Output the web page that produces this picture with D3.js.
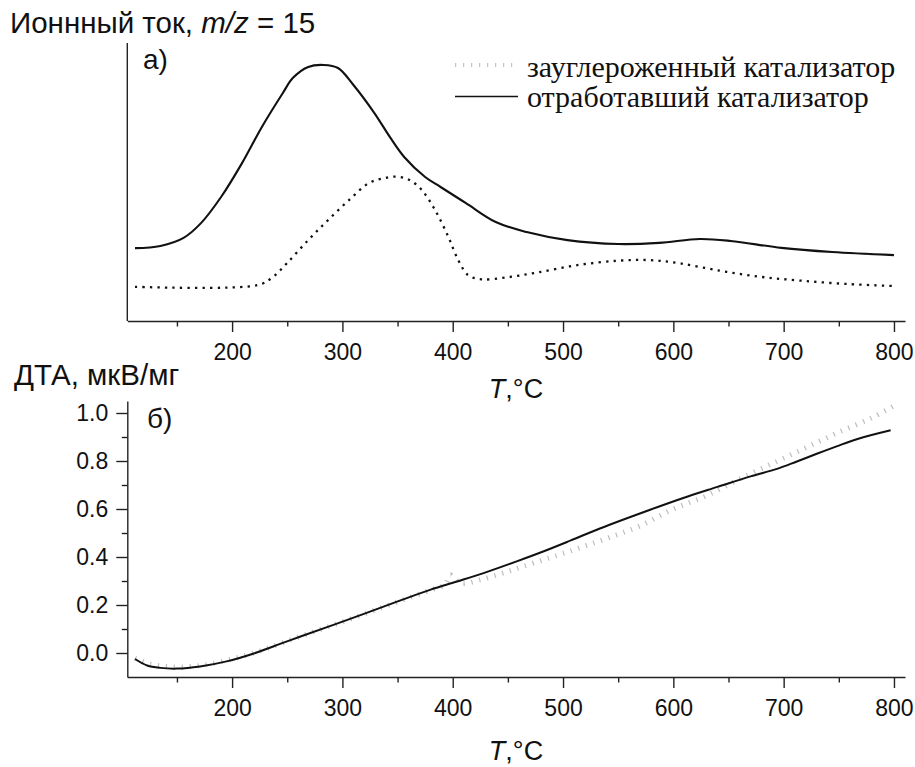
<!DOCTYPE html>
<html>
<head>
<meta charset="utf-8">
<script src="https://cdn.jsdelivr.net/npm/d3@7"></script>
<style>
  html, body { margin: 0; padding: 0; background: #fff; }
  svg { display: block; }
  .sans { font-family: "Liberation Sans", Arial, sans-serif; }
  .serif { font-family: "Liberation Serif", "Times New Roman", serif; }
</style>
</head>
<body>
<svg id="chart" width="915" height="767"></svg>
<script>
// Ion current m/z = 15 (arbitrary units), spent catalyst
const tempSpent = [112, 135, 156, 172, 190, 209, 227, 246, 255, 269, 283, 296, 310, 329, 343, 356, 375, 389, 412, 439, 467, 504, 550, 587, 624, 652, 698, 744, 800];
const ionSpent  = [0.262, 0.270, 0.299, 0.353, 0.446, 0.568, 0.698, 0.820, 0.874, 0.914, 0.921, 0.910, 0.849, 0.748, 0.662, 0.590, 0.518, 0.482, 0.424, 0.356, 0.320, 0.291, 0.277, 0.281, 0.295, 0.288, 0.263, 0.248, 0.237];

// Ion current m/z = 15 (arbitrary units), coked catalyst
const tempCoked = [112, 223, 236, 250, 269, 287, 306, 324, 338, 350, 361, 372, 384, 396, 405, 414, 426, 449, 476, 513, 550, 578, 605, 642, 679, 716, 758, 800];
const ionCoked  = [0.123, 0.129, 0.155, 0.209, 0.291, 0.363, 0.435, 0.496, 0.514, 0.519, 0.507, 0.471, 0.399, 0.303, 0.219, 0.165, 0.150, 0.157, 0.174, 0.201, 0.217, 0.219, 0.208, 0.181, 0.159, 0.145, 0.133, 0.126];

// DTA signal, µV/mg, spent catalyst
const tempDtaSpent = [112, 123, 135, 150, 171, 195, 219, 246, 262, 307, 352, 380, 404, 428, 458, 482, 507, 534, 579, 609, 640, 670, 694, 712, 730, 748, 767, 797];
const dtaSpent     = [-0.025, -0.052, -0.062, -0.065, -0.056, -0.035, -0.003, 0.042, 0.069, 0.142, 0.218, 0.264, 0.298, 0.333, 0.382, 0.423, 0.469, 0.520, 0.597, 0.646, 0.692, 0.736, 0.767, 0.798, 0.830, 0.861, 0.892, 0.928];

// DTA signal, µV/mg, coked catalyst
const tempDtaCoked = [112, 125, 140, 155, 175, 200, 225, 250, 280, 310, 350, 380, 393, 398, 402, 408, 425, 450, 480, 510, 540, 570, 600, 630, 660, 690, 720, 750, 780, 800];
const dtaCoked     = [-0.022, -0.045, -0.056, -0.058, -0.050, -0.025, 0.008, 0.050, 0.098, 0.146, 0.213, 0.262, 0.285, 0.325, 0.310, 0.290, 0.305, 0.340, 0.385, 0.430, 0.478, 0.530, 0.600, 0.655, 0.725, 0.790, 0.855, 0.920, 0.980, 1.030];

const xMajorTicks = [200, 300, 400, 500, 600, 700, 800];
const xMinorTicks = [150, 250, 350, 450, 550, 650, 750];
const yMajorTicks = [0.0, 0.2, 0.4, 0.6, 0.8, 1.0];
const yMinorTicks = [0.1, 0.3, 0.5, 0.7, 0.9];

const legendLabels = ["зауглероженный катализатор", "отработавший катализатор"];

const svg = d3.select("#chart");
const TICK_FS = 23;
const LABEL_FS = 29.5;

const x = d3.scaleLinear().domain([105, 810]).range([127.3, 905]);
const yTop = d3.scaleLinear().domain([0, 1]).range([321, 43]);
const yBot = d3.scaleLinear().domain([-0.1, 1.05]).range([677, 401]);

function styleAxis(g) {
  g.select(".domain").attr("stroke", "#222").attr("stroke-width", 1.4);
  g.selectAll(".tick line").attr("stroke", "#222").attr("stroke-width", 1.4);
  g.selectAll("text").attr("class", "sans").attr("font-size", TICK_FS).attr("fill", "#111");
}

function drawXAxis(yPos) {
  const gMaj = svg.append("g").attr("transform", `translate(0,${yPos})`)
    .call(d3.axisBottom(x).tickValues(xMajorTicks).tickSize(11).tickPadding(11.5).tickFormat(d3.format("d")).tickSizeOuter(0));
  styleAxis(gMaj);
  const gMin = svg.append("g").attr("transform", `translate(0,${yPos})`)
    .call(d3.axisBottom(x).tickValues(xMinorTicks).tickSize(5.5).tickFormat("").tickSizeOuter(0));
  styleAxis(gMin);
  gMin.select(".domain").remove();
}

// ---- panel а) ion current ----
drawXAxis(321);
svg.append("line").attr("x1", 127.3).attr("x2", 127.3).attr("y1", yTop.range()[1]).attr("y2", 321)
  .attr("stroke", "#222").attr("stroke-width", 1.4);

const lineTop = (xs, ys) => d3.line().x((d, i) => x(xs[i])).y((d, i) => yTop(ys[i])).curve(d3.curveCatmullRom.alpha(0.5))(ys);

svg.append("path").attr("d", lineTop(tempCoked, ionCoked))
  .attr("fill", "none").attr("stroke", "#111").attr("stroke-width", 2.3).attr("stroke-dasharray", "2.3,5.2");
svg.append("path").attr("d", lineTop(tempSpent, ionSpent))
  .attr("fill", "none").attr("stroke", "#111").attr("stroke-width", 2.1);

// ---- panel б) DTA ----
drawXAxis(677);
const gY = svg.append("g").attr("transform", "translate(127.3,0)")
  .call(d3.axisLeft(yBot).tickValues(yMajorTicks).tickSize(11).tickPadding(8).tickFormat(d3.format(".1f")).tickSizeOuter(0));
styleAxis(gY);
const gYm = svg.append("g").attr("transform", "translate(127.3,0)")
  .call(d3.axisLeft(yBot).tickValues(yMinorTicks).tickSize(5.5).tickFormat("").tickSizeOuter(0));
styleAxis(gYm);
gYm.select(".domain").remove();

const lineBot = (xs, ys) => d3.line().x((d, i) => x(xs[i])).y((d, i) => yBot(ys[i])).curve(d3.curveCatmullRom.alpha(0.5))(ys);

svg.append("path").attr("d", lineBot(tempDtaCoked, dtaCoked))
  .attr("fill", "none").attr("stroke", "#bdbdbd").attr("stroke-width", 5).attr("stroke-dasharray", "1.2,6.8");
svg.append("path").attr("d", lineBot(tempDtaSpent, dtaSpent))
  .attr("fill", "none").attr("stroke", "#111").attr("stroke-width", 2);

// ---- texts ----
const title = svg.append("text").attr("class", "sans").attr("x", 10).attr("y", 33).attr("font-size", LABEL_FS).attr("fill", "#111");
title.append("tspan").text("Ионнный ток, ");
title.append("tspan").attr("font-style", "italic").text("m/z");
title.append("tspan").text(" = 15");

svg.append("text").attr("class", "sans").attr("x", 14).attr("y", 385).attr("font-size", LABEL_FS).attr("fill", "#111")
  .text("ДТА, мкВ/мг");

svg.append("text").attr("class", "sans").attr("x", 143).attr("y", 69).attr("font-size", 28).attr("fill", "#111").text("а)");
svg.append("text").attr("class", "sans").attr("x", 147).attr("y", 428).attr("font-size", 28).attr("fill", "#111").text("б)");

function axisTitle(yBase) {
  const t = svg.append("text").attr("class", "sans").attr("x", 516).attr("y", yBase)
    .attr("font-size", 27).attr("text-anchor", "middle").attr("fill", "#111");
  t.append("tspan").attr("font-style", "italic").text("T");
  t.append("tspan").text(",°C");
}
axisTitle(398);
axisTitle(760);

// legend
const legend = svg.append("g");
legend.append("line").attr("x1", 455).attr("x2", 518).attr("y1", 65).attr("y2", 65)
  .attr("stroke", "#c4c4c4").attr("stroke-width", 4).attr("stroke-dasharray", "1.2,6.8");
legend.append("line").attr("x1", 455).attr("x2", 518).attr("y1", 96.5).attr("y2", 96.5)
  .attr("stroke", "#111").attr("stroke-width", 1.6);
legend.selectAll("text.leg").data(legendLabels).enter().append("text")
  .attr("class", "serif").attr("x", 527).attr("y", (d, i) => 76.5 + i * 30)
  .attr("font-size", 30).attr("fill", "#111").text(d => d);
</script>
</body>
</html>
